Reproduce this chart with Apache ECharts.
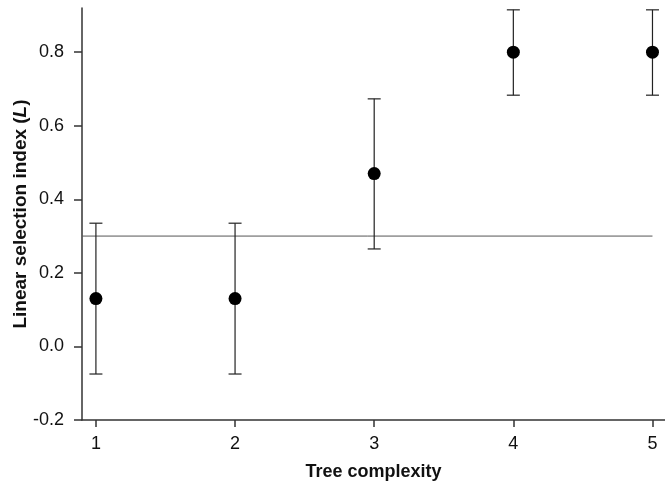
<!DOCTYPE html>
<html>
<head>
<meta charset="utf-8">
<script src="https://cdn.jsdelivr.net/npm/echarts@6/dist/echarts.min.js"></script>
<style>
  html, body { margin: 0; padding: 0; background: #fff; }
  #chart { width: 665px; height: 486px; }
</style>
</head>
<body>
<div id="chart"></div>
<script>
// tree complexity levels and linear selection index (L)
const categories = [1, 2, 3, 4, 5];
const meanL = [0.13, 0.13, 0.47, 0.80, 0.80];
const lowerL = [-0.075, -0.075, 0.265, 0.683, 0.683];
const upperL = [0.335, 0.335, 0.673, 0.915, 0.915];
const threshold = 0.3;
const yTicks = [-0.2, 0, 0.2, 0.4, 0.6, 0.8];
const xTicks = [1, 2, 3, 4, 5];

const font = 'Liberation Sans, Arial, sans-serif';
const axisColor = '#333';

const chart = echarts.init(document.getElementById('chart'));

chart.setOption({
  animation: false,
  backgroundColor: '#fff',
  grid: { left: 82, right: 0, top: 8, bottom: 66, containLabel: false, outerBoundsMode: 'none' },
  xAxis: {
    type: 'value',
    min: 0.9,
    max: 5.09,
    name: 'Tree complexity',
    nameLocation: 'middle',
    nameGap: 43,
    nameTextStyle: { fontFamily: font, fontSize: 18, fontWeight: 'bold', color: '#111' },
    axisLine: { onZero: false, lineStyle: { color: axisColor, width: 1.5 } },
    axisTick: { show: true, length: 7, customValues: xTicks, lineStyle: { color: axisColor, width: 1.5 } },
    axisLabel: { customValues: xTicks, margin: 15, fontFamily: font, fontSize: 18, color: '#111' },
    splitLine: { show: false }
  },
  yAxis: {
    type: 'value',
    min: -0.2,
    max: 0.92,
    name: 'Linear selection index ({i|L})',
    nameLocation: 'middle',
    nameGap: 52,
    nameMoveOverlap: false,
    nameTextStyle: {
      fontFamily: font, fontSize: 19, fontWeight: 'bold', color: '#111',
      rich: { i: { fontFamily: font, fontSize: 19, fontWeight: 'bold', fontStyle: 'italic', color: '#111' } }
    },
    axisLine: { show: true, onZero: false, lineStyle: { color: axisColor, width: 1.5 } },
    axisTick: { show: true, length: 8, customValues: yTicks, lineStyle: { color: axisColor, width: 1.5 } },
    axisLabel: {
      customValues: yTicks, margin: 18, fontFamily: font, fontSize: 18, color: '#111',
      formatter: (v) => v.toFixed(1)
    },
    splitLine: { show: false }
  },
  series: [
    {
      type: 'line',
      data: [[0.9, threshold], [categories[categories.length - 1], threshold]],
      symbol: 'none',
      lineStyle: { color: '#555', width: 1 },
      silent: true,
      z: 1
    },
    {
      type: 'custom',
      data: categories.map((c, i) => [c, lowerL[i], upperL[i]]),
      renderItem: (params, api) => {
        const lo = api.coord([api.value(0), api.value(1)]);
        const hi = api.coord([api.value(0), api.value(2)]);
        const half = 6.5;
        const style = { stroke: '#222', lineWidth: 1.2 };
        return {
          type: 'group',
          children: [
            { type: 'line', shape: { x1: lo[0], y1: lo[1], x2: hi[0], y2: hi[1] }, style },
            { type: 'line', shape: { x1: lo[0] - half, y1: lo[1], x2: lo[0] + half, y2: lo[1] }, style },
            { type: 'line', shape: { x1: hi[0] - half, y1: hi[1], x2: hi[0] + half, y2: hi[1] }, style }
          ]
        };
      },
      z: 2
    },
    {
      type: 'scatter',
      data: categories.map((c, i) => [c, meanL[i]]),
      symbol: 'circle',
      symbolSize: 13,
      itemStyle: { color: '#000', opacity: 1 },
      z: 3
    }
  ]
});
</script>
</body>
</html>
